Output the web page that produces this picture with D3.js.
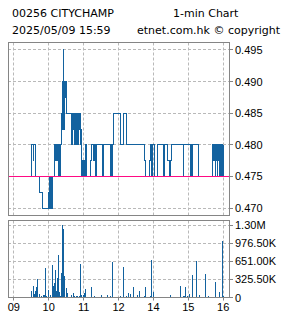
<!DOCTYPE html>
<html><head><meta charset="utf-8">
<script src="https://cdn.jsdelivr.net/npm/d3@7"></script>
<style>html,body{margin:0;padding:0;background:#fff;overflow:hidden}svg{display:block}</style>
</head><body><svg id="c" width="285" height="318"></svg>
<script>
// ---- data ----
const titleLeft1 = "00256 CITYCHAMP";
const titleRight1 = "1-min Chart";
const titleLeft2 = "2025/05/09 15:59";
const titleRight2 = "etnet.com.hk \u00a9 copyright";
const prevClose = 0.475;

const priceTicks = [0.470, 0.475, 0.480, 0.485, 0.490, 0.495];
const priceTickLabels = ["0.470", "0.475", "0.480", "0.485", "0.490", "0.495"];
const volTicks = [0, 325500, 651000, 976500, 1302000];
const volTickLabels = ["0", "325.50K", "651.00K", "976.50K", "1.30M"];
const timeTicks = ["09:00", "10:00", "11:00", "12:00", "14:00", "15:00", "16:00"];
const timeTickLabels = ["09", "10", "11", "12", "14", "15", "16"];

const priceTimes = [
 "09:30","09:31","09:33","09:34","09:37","09:45","09:49","10:00","10:01","10:02",
 "10:03","10:04","10:05","10:06","10:10","10:11","10:12","10:14","10:15","10:16",
 "10:17","10:18","10:19","10:20","10:21","10:22","10:23","10:24","10:25","10:26",
 "10:27","10:28","10:29","10:30","10:31","10:40","10:41","10:42","10:43","10:44",
 "10:45","10:46","10:47","10:48","10:49","10:50","10:51","10:52","10:53","10:54",
 "10:55","10:56","10:57","10:58","10:59","11:01","11:02","11:03","11:05","11:12",
 "11:13","11:17","11:18","11:20","11:21","11:22","11:23","11:32","11:33","11:34",
 "11:35","11:47","11:48","11:49","11:50","11:51","11:52",
 "13:03","13:04","13:08","13:14","13:44","13:47","13:54","13:55","13:56","13:57",
 "13:58","13:59","14:02","14:07","14:17",
 "14:18","14:19","14:25","14:28","14:30","14:31","14:51","14:52","15:03","15:04",
 "15:05","15:06","15:07","15:18","15:42","15:44","15:45","15:46","15:47","15:48",
 "15:49","15:50","15:51","15:52","15:53","15:54","15:55","15:56","15:57","15:58",
 "15:59","16:00"];
const priceValues = [
 0.475,0.480,0.4775,0.480,0.475,0.4725,0.470,0.4725,0.470,0.475,
 0.470,0.475,0.470,0.475,0.480,0.4775,0.480,0.4775,0.480,0.475,
 0.4775,0.475,0.480,0.475,0.480,0.485,0.490,0.4825,0.495,0.490,
 0.4825,0.490,0.4875,0.490,0.485,0.480,0.485,0.4825,0.485,0.480,
 0.485,0.480,0.485,0.4825,0.485,0.480,0.485,0.4825,0.485,0.480,
 0.4825,0.480,0.475,0.4775,0.475,0.4775,0.475,0.480,0.475,0.4775,
 0.480,0.4775,0.480,0.475,0.480,0.475,0.480,0.475,0.480,0.475,
 0.480,0.475,0.480,0.475,0.480,0.4825,0.485,
 0.4825,0.480,0.485,0.480,0.4775,0.475,0.4775,0.480,0.475,0.480,
 0.475,0.480,0.475,0.480,0.4775,
 0.475,0.480,0.4775,0.475,0.4775,0.480,0.475,0.480,0.4775,0.475,
 0.480,0.475,0.480,0.475,0.480,0.4775,0.480,0.475,0.480,0.4775,
 0.480,0.475,0.480,0.4775,0.475,0.480,0.475,0.480,0.475,0.480,
 0.475,0.480];

const volTimes = [
 "09:30","09:31","09:33","09:35","09:37","09:39","09:40","09:45","09:47","09:51",
 "09:52","09:54","09:56","09:59","10:03","10:06","10:08","10:10","10:11","10:13",
 "10:15","10:16","10:18","10:20","10:22","10:23","10:25","10:27","10:28","10:30",
 "10:32","10:40","10:42","10:44","10:47","10:50","10:53","10:54","10:56","10:59",
 "11:01","11:03","11:13","11:19","11:30","11:41","11:47","11:49",
 "13:03","13:08","13:13","13:17","13:20","13:25","13:32","13:36","13:44","13:46",
 "13:55","13:57","14:01","14:29","14:47","14:51","14:54","14:56","14:58","15:02",
 "15:07","15:14","15:20","15:29","15:34","15:46","15:53","15:58","16:00"];
const volValues = [
 119000,78000,209000,60000,119000,197000,334000,60000,18000,48000,
 36000,537000,24000,137000,36000,585000,215000,269000,495000,119000,
 358000,764000,107000,24000,448000,1302000,1230000,388000,287000,179000,
 78000,48000,72000,24000,24000,30000,18000,597000,42000,42000,
 72000,155000,197000,18000,48000,48000,18000,645000,
 18000,555000,24000,72000,60000,197000,36000,119000,18000,197000,
 18000,675000,101000,48000,209000,30000,30000,191000,30000,66000,
 406000,657000,48000,424000,18000,283000,107000,1021000,30000];

// ---- helpers ----
function toT(s) { // trading-minute index from 09:00, lunch break removed
  const [h, m] = s.split(":").map(Number);
  let t = h * 60 + m - 540;
  if (t >= 240) t -= 60;
  return t;
}

const blue = "#13629f", pink = "#ff0a84", frameC = "#858585", gridC = "#b9b9b9";
const axisFont = "'Liberation Sans', Arial, sans-serif";
const titleFont = "'DejaVu Sans', Verdana, sans-serif";

const P = {left: 8, right: 229, top: 42.5, bottom: 215.5};
const V = {top: 220.5, bottom: 297.5};

const x = d3.scaleLinear().domain([-10, 370]).range([P.left, P.right]);
const yP = d3.scaleLinear().domain([0.46875, 0.49625]).range([216, 42]);
const yV = d3.scaleLinear().domain([0, 1302000]).range([V.bottom, 225]);

const svg = d3.select("#c");

// titles
const tg = svg.append("g").attr("font-family", titleFont).attr("font-size", 11).attr("fill", "#000");
tg.append("text").attr("x", 12).attr("y", 17).text(titleLeft1);
tg.append("text").attr("x", 173).attr("y", 17).text(titleRight1);
tg.append("text").attr("x", 12).attr("y", 34).text(titleLeft2);
tg.append("text").attr("x", 137).attr("y", 34).text(titleRight2);

function snap(v) { return Math.round(v - 0.5) + 0.5; }

// ---- price panel ----
const pg = svg.append("g");
pg.selectAll("line.hg").data(priceTicks).join("line")
  .attr("x1", P.left).attr("x2", P.right)
  .attr("y1", d => snap(yP(d))).attr("y2", d => snap(yP(d)))
  .attr("stroke", gridC).attr("stroke-dasharray", "3,2");
pg.selectAll("line.vg").data(timeTicks).join("line")
  .attr("x1", d => snap(x(toT(d)))).attr("x2", d => snap(x(toT(d))))
  .attr("y1", P.top).attr("y2", P.bottom)
  .attr("stroke", gridC).attr("stroke-dasharray", "3,2");

const pts = priceTimes.map((t, i) => [toT(t), priceValues[i]]);
const line = d3.line().x(d => x(d[0])).y(d => yP(d[1])).curve(d3.curveStepAfter);
pg.append("path").datum(pts).attr("d", line).attr("fill", "none")
  .attr("stroke", blue).attr("stroke-width", 1).attr("shape-rendering", "crispEdges");

pg.append("line").attr("x1", P.left).attr("x2", P.right)
  .attr("y1", snap(yP(prevClose))).attr("y2", snap(yP(prevClose)))
  .attr("stroke", pink).attr("stroke-width", 1.2);

pg.append("rect").attr("x", P.left + 0.5).attr("y", P.top).attr("width", P.right - P.left)
  .attr("height", P.bottom - P.top).attr("fill", "none").attr("stroke", frameC);

// right ticks + labels
pg.selectAll("line.rt").data(priceTicks).join("line")
  .attr("x1", P.right + 0.5).attr("x2", P.right + 4)
  .attr("y1", d => snap(yP(d))).attr("y2", d => snap(yP(d))).attr("stroke", frameC);
pg.selectAll("text.pl").data(priceTicks).join("text")
  .attr("x", 235).attr("y", d => yP(d) + 4)
  .attr("font-family", axisFont).attr("font-size", 11).attr("fill", "#000")
  .text((d, i) => priceTickLabels[i]);

// ---- volume panel ----
const vg = svg.append("g");
vg.selectAll("line.hg").data(volTicks.slice(1)).join("line")
  .attr("x1", P.left).attr("x2", P.right)
  .attr("y1", d => snap(yV(d))).attr("y2", d => snap(yV(d)))
  .attr("stroke", gridC).attr("stroke-dasharray", "3,2");
vg.selectAll("line.vg").data(timeTicks).join("line")
  .attr("x1", d => snap(x(toT(d)))).attr("x2", d => snap(x(toT(d))))
  .attr("y1", V.top).attr("y2", V.bottom)
  .attr("stroke", gridC).attr("stroke-dasharray", "3,2");

vg.selectAll("rect.bar").data(volTimes).join("rect")
  .attr("x", d => Math.round(x(toT(d)) - 0.5))
  .attr("width", 1)
  .attr("y", (d, i) => yV(volValues[i]))
  .attr("height", (d, i) => yV(0) - yV(volValues[i]))
  .attr("fill", blue).attr("shape-rendering", "crispEdges");

vg.append("rect").attr("x", P.left + 0.5).attr("y", V.top).attr("width", P.right - P.left)
  .attr("height", V.bottom - V.top).attr("fill", "none").attr("stroke", frameC);

vg.selectAll("line.rt").data(volTicks).join("line")
  .attr("x1", P.right + 0.5).attr("x2", P.right + 4)
  .attr("y1", d => snap(yV(d))).attr("y2", d => snap(yV(d))).attr("stroke", frameC);
vg.selectAll("text.vl").data(volTicks).join("text")
  .attr("x", 235).attr("y", d => yV(d) + 4)
  .attr("font-family", axisFont).attr("font-size", 11).attr("fill", "#000")
  .text((d, i) => volTickLabels[i]);

// bottom time axis
vg.selectAll("line.bt").data(timeTicks).join("line")
  .attr("x1", d => snap(x(toT(d)))).attr("x2", d => snap(x(toT(d))))
  .attr("y1", V.bottom).attr("y2", V.bottom + 3).attr("stroke", frameC);
vg.selectAll("text.tl").data(timeTicks).join("text")
  .attr("x", d => x(toT(d))).attr("y", 311)
  .attr("text-anchor", "middle")
  .attr("font-family", axisFont).attr("font-size", 11).attr("fill", "#000")
  .text((d, i) => timeTickLabels[i]);
</script>
</body></html>
